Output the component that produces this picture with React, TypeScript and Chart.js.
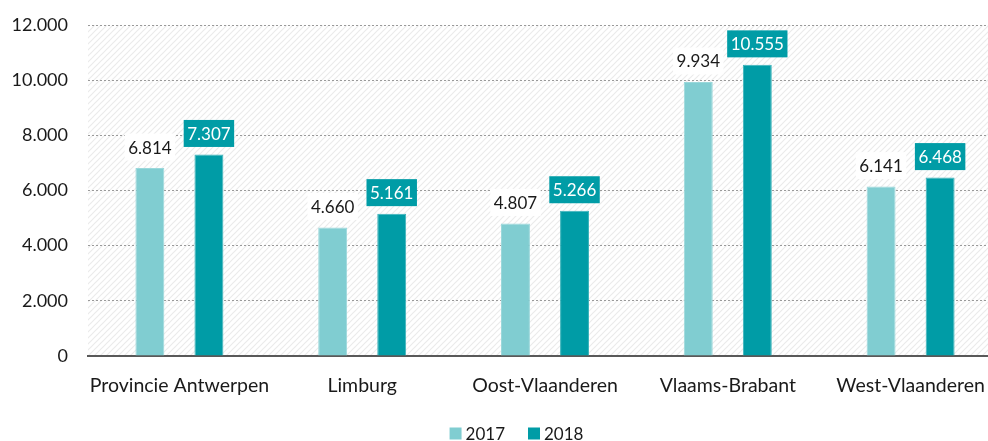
import React, { useEffect, useRef } from "react";
import { Chart, registerables } from "chart.js";

Chart.register(...registerables);

const categories = ["Provincie Antwerpen", "Limburg", "Oost-Vlaanderen", "Vlaams-Brabant", "West-Vlaanderen"];
const values2017 = [6814, 4660, 4807, 9934, 6141];
const values2018 = [7307, 5161, 5266, 10555, 6468];
const seriesLabels = ["2017", "2018"];

const C2017 = "#80cdd1";
const C2018 = "#009ca6";
const FONT = "Lato, 'Open Sans', sans-serif";

const fmt = (v: number) => v.toLocaleString("de-DE");

const hatchPlugin = {
  id: "hatch",
  beforeDraw(chart: any) {
    const { ctx, chartArea } = chart;
    const p = document.createElement("canvas");
    p.width = 6;
    p.height = 6;
    const pc = p.getContext("2d")!;
    pc.strokeStyle = "#ebebeb";
    pc.lineWidth = 1.2;
    pc.beginPath();
    pc.moveTo(0, 6);
    pc.lineTo(6, 0);
    pc.moveTo(-1, 1);
    pc.lineTo(1, -1);
    pc.moveTo(5, 7);
    pc.lineTo(7, 5);
    pc.stroke();
    const pat = ctx.createPattern(p, "repeat");
    ctx.save();
    ctx.fillStyle = pat;
    ctx.fillRect(chartArea.left, chartArea.top, chartArea.right - chartArea.left, chartArea.bottom - chartArea.top);
    ctx.restore();
  },
};

const labelPlugin = {
  id: "barLabels",
  afterDatasetsDraw(chart: any) {
    const { ctx } = chart;
    ctx.save();
    ctx.font = `17px ${FONT}`;
    ctx.textAlign = "center";
    ctx.textBaseline = "middle";
    chart.data.datasets.forEach((ds: any, di: number) => {
      const meta = chart.getDatasetMeta(di);
      meta.data.forEach((el: any, i: number) => {
        const txt = fmt(ds.data[i]);
        const w = ctx.measureText(txt).width + 7;
        const h = 27;
        const cy = el.y - 21;
        if (di === 0) {
          ctx.fillStyle = "#ffffff";
          ctx.fillRect(el.x - w / 2, cy - h / 2, w, h);
          ctx.fillStyle = "#1a1a1a";
        } else {
          ctx.fillStyle = C2018;
          ctx.fillRect(el.x - w / 2, cy - h / 2, w, h);
          ctx.fillStyle = "#ffffff";
        }
        ctx.fillText(txt, el.x, cy + 1);
      });
    });
    ctx.restore();
  },
};

const legendPlugin = {
  id: "customLegend",
  afterDraw(chart: any) {
    const { ctx } = chart;
    ctx.save();
    ctx.font = `17px ${FONT}`;
    ctx.textBaseline = "middle";
    ctx.textAlign = "left";
    const box = 12;
    const gapText = 4;
    const gapItem = 23;
    const items = chart.data.datasets.map((ds: any) => ({
      label: ds.label,
      color: ds.backgroundColor,
      w: ctx.measureText(ds.label).width,
    }));
    const total = items.reduce((s: number, it: any) => s + box + gapText + it.w, 0) + gapItem * (items.length - 1);
    let x = 516.5 - total / 2;
    const cy = 433.5;
    items.forEach((it: any) => {
      ctx.fillStyle = it.color;
      ctx.fillRect(x, cy - box / 2, box, box);
      x += box + gapText;
      ctx.fillStyle = "#1a1a1a";
      ctx.fillText(it.label, x, cy + 1);
      x += it.w + gapItem;
    });
    ctx.restore();
  },
};

export default function App() {
  const ref = useRef<HTMLCanvasElement>(null);
  useEffect(() => {
    document.body.style.margin = "0";
    document.body.style.overflow = "hidden";
    const chart = new Chart(ref.current!, {
      type: "bar",
      data: {
        labels: categories,
        datasets: [
          { label: seriesLabels[0], data: values2017, backgroundColor: C2017, borderColor: "#9ad8db", borderWidth: 1 },
          { label: seriesLabels[1], data: values2018, backgroundColor: C2018, borderColor: "#3ab3ba", borderWidth: 1 },
        ],
      },
      options: {
        animation: false,
        responsive: false,
        layout: { padding: { top: 25, right: 0, left: 0, bottom: 25 } },
        datasets: { bar: { categoryPercentage: 0.646, barPercentage: 0.49 } },
        scales: {
          x: {
            afterFit: (axis: any) => {
              axis.height = 60;
            },
            grid: { display: false },
            border: { display: true, color: "#595959", width: 2 },
            ticks: { color: "#1a1a1a", font: { family: FONT, size: 19.5 }, padding: 10, maxRotation: 0, autoSkip: false },
          },
          y: {
            min: 0,
            max: 12000,
            afterFit: (axis: any) => {
              axis.width = 88;
              axis.paddingTop = 0;
              axis.paddingBottom = 0;
            },
            grid: { color: "#9a9a9a", lineWidth: 1, drawTicks: false },
            border: { display: false, dash: [2, 2] },
            ticks: {
              stepSize: 2000,
              padding: 20,
              color: "#1a1a1a",
              font: { family: FONT, size: 18 },
              callback: (v: any) => fmt(Number(v)),
            },
          },
        },
        plugins: {
          legend: { display: false },
          tooltip: { enabled: false },
        },
      },
      plugins: [hatchPlugin, labelPlugin, legendPlugin],
    });
    return () => chart.destroy();
  }, []);
  return (
    <div style={{ width: 988, height: 441, overflow: "hidden" }}>
      <canvas ref={ref} width={1002} height={441} style={{ display: "block" }} />
    </div>
  );
}
